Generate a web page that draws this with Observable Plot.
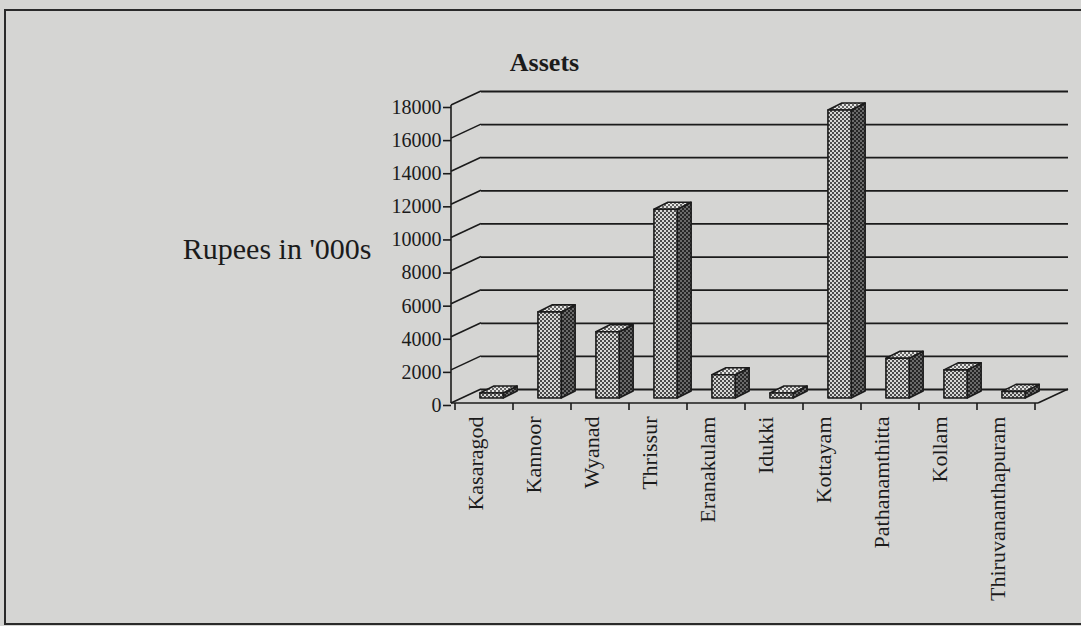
<!DOCTYPE html>
<html><head><meta charset="utf-8">
<script src="https://cdn.jsdelivr.net/npm/d3@7"></script>
<script src="https://cdn.jsdelivr.net/npm/@observablehq/plot@0.6"></script>
<style>
html,body{margin:0;padding:0;background:#d5d5d3;width:1081px;height:626px;overflow:hidden}
#border{position:absolute;left:4px;top:9px;width:1090px;height:612px;border:2px solid #2a2a2a;}
#chart{position:absolute;left:0;top:0}
</style></head><body><div id="border"></div><div id="chart"></div>
<script>
// ---- data ----
const districts = ["Kasaragod","Kannoor","Wyanad","Thrissur","Eranakulam","Idukki","Kottayam","Pathanamthitta","Kollam","Thiruvananthapuram"];
const assets = [300, 5200, 4000, 11400, 1400, 300, 17400, 2400, 1700, 400];
const yTicks = [0, 2000, 4000, 6000, 8000, 10000, 12000, 14000, 16000, 18000];
const chartTitle = "Assets";
const yAxisLabel = "Rupees in '000s";
const rows = districts.map((district, i) => ({district, assets: assets[i]}));

// ---- layout ----
const W = 1081, H = 626, ML = 451, MR = 43, MT = 105, MB = 223;
const DX = 30, DY = -14;           // wall depth offset
const BX0 = 0.43, BW = 0.40, BDX = 14, BDY = -7, LIFT = 5; // bar box geometry
const INK = "#1b1b1b";
const NS = "http://www.w3.org/2000/svg";
function el(name, attrs = {}) {
  const e = document.createElementNS(NS, name);
  for (const k in attrs) e.setAttribute(k, attrs[k]);
  return e;
}
function pattern(id, bg, fg) {
  const p = el("pattern", {id, width: 4, height: 4, patternUnits: "userSpaceOnUse"});
  p.appendChild(el("rect", {width: 4, height: 4, fill: bg}));
  p.appendChild(el("rect", {x: 0, y: 0, width: 2, height: 2, fill: fg}));
  p.appendChild(el("rect", {x: 2, y: 2, width: 2, height: 2, fill: fg}));
  return p;
}

function wallRender(index, scales, values, dims) {
  const g = el("g", {stroke: INK, "stroke-width": 1.6, fill: "none"});
  const x0 = dims.marginLeft, xr = dims.width - dims.marginRight;
  const y0 = scales.y(0);
  for (const t of yTicks) {
    const y = scales.y(t);
    g.appendChild(el("line", {x1: x0, y1: y, x2: x0 + DX, y2: y + DY}));
  }
  g.appendChild(el("line", {x1: x0, y1: y0, x2: x0, y2: scales.y(yTicks[yTicks.length - 1])}));
  g.appendChild(el("line", {x1: x0, y1: y0, x2: xr, y2: y0}));
  g.appendChild(el("line", {x1: xr, y1: y0, x2: xr + DX, y2: y0 + DY}));
  const bw = scales.x.bandwidth ? scales.x.bandwidth() : (xr - x0) / districts.length;
  const bounds = districts.map(d => scales.x(d)).concat([scales.x(districts[districts.length - 1]) + bw]);
  for (const bx of bounds) g.appendChild(el("line", {x1: bx, y1: y0, x2: bx, y2: y0 + 7}));
  return g;
}

function boxRender(index, scales, values, dims) {
  const g = el("g");
  const defs = el("defs");
  defs.appendChild(pattern("pfront", "#d6d6d4", "#4a4a4a"));
  defs.appendChild(pattern("pside", "#262626", "#6a6a6a"));
  defs.appendChild(pattern("ptop", "#e4e4e2", "#666666"));
  g.appendChild(defs);
  const bw = scales.x.bandwidth ? scales.x.bandwidth() : (dims.width - dims.marginLeft - dims.marginRight) / districts.length;
  for (const i of index) {
    const s = scales.x(rows[i].district);
    const xa = s + BX0 * bw, xb = xa + BW * bw;
    const yb = scales.y(0) - LIFT, yt = scales.y(rows[i].assets) - LIFT;
    const common = {stroke: INK, "stroke-width": 1.6, "stroke-linejoin": "round"};
    g.appendChild(el("polygon", {...common, fill: "url(#pside)",
      points: `${xb},${yb} ${xb + BDX},${yb + BDY} ${xb + BDX},${yt + BDY} ${xb},${yt}`}));
    g.appendChild(el("polygon", {...common, fill: "url(#ptop)",
      points: `${xa},${yt} ${xb},${yt} ${xb + BDX},${yt + BDY} ${xa + BDX},${yt + BDY}`}));
    g.appendChild(el("rect", {...common, fill: "url(#pfront)", x: xa, y: yt, width: xb - xa, height: yb - yt}));
  }
  return g;
}

const chart = Plot.plot({
  width: W, height: H,
  marginLeft: ML, marginRight: MR, marginTop: MT, marginBottom: MB,
  style: {fontFamily: "'Liberation Serif', 'DejaVu Serif', serif", color: INK, background: "transparent", overflow: "visible"},
  x: {domain: districts, padding: 0},
  y: {domain: [0, 18000]},
  marks: [
    Plot.ruleY(yTicks, {dx: DX, dy: DY, stroke: INK, strokeWidth: 1.8}),
    Plot.ruleY(yTicks, {y: d => d, render: wallRender}),
    Plot.barY(rows, {x: "district", y: "assets", render: boxRender}),
    Plot.axisY(yTicks, {tickSize: 8, tickPadding: 2, tickFormat: "d", fontSize: 20, label: null, strokeWidth: 1.6, dy: 2}),
    Plot.axisX({tickSize: 0, tickPadding: 13, tickRotate: -90, fontSize: 22, label: null, dx: -9}),
    Plot.text([chartTitle], {frameAnchor: "top-left", textAnchor: "middle", lineAnchor: "bottom", dx: 93, dy: -35, fontSize: 26, fontWeight: "bold"}),
    Plot.text([yAxisLabel], {frameAnchor: "left", textAnchor: "end", lineAnchor: "bottom", dx: -80, dy: 4, fontSize: 30})
  ]
});
document.getElementById("chart").appendChild(chart);
</script>
</body></html>
